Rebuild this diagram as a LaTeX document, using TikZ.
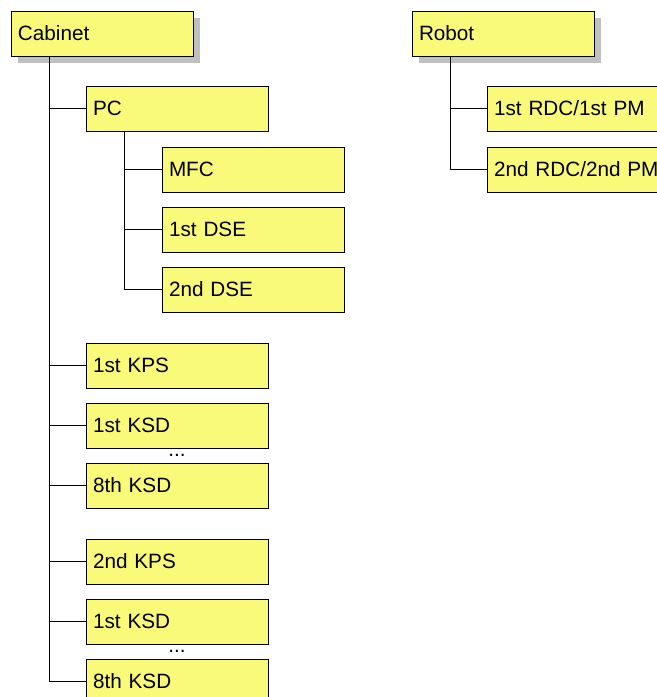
\documentclass[tikz,border=0pt]{standalone}
\usepackage{fontspec}
\setmainfont{Liberation Sans}
\usetikzlibrary{positioning,shadows}
\definecolor{boxyellow}{RGB}{250,250,122}
\definecolor{shadowgrey}{RGB}{192,192,192}

\begin{document}
\begin{tikzpicture}[font=\fontsize{10.35}{12}\selectfont,
  unit/.style={draw,line width=0.5pt,fill=boxyellow,minimum height=22.5pt,text width=84pt,inner xsep=3.5pt,outer sep=0pt,align=left},
  rootunit/.style={unit,drop shadow={shadow xshift=3.5pt,shadow yshift=-3.5pt,fill=shadowgrey,opacity=1}},
  link/.style={line width=0.5pt}]
\useasboundingbox (0,0) rectangle (328.5pt,-348.5pt);
\node[rootunit,anchor=north west] (cab) at (5.5pt,-5.5pt) {Cabinet};
\node[rootunit,right=109.5pt of cab] (rob) {Robot};
\node[unit,below right=15pt and 37.5pt of cab.south west] (pc) {PC};
\node[unit,below right=8pt and 38pt of pc.south west] (mfc) {MFC};
\node[unit,below=7.5pt of mfc] (dsea) {1st DSE};
\node[unit,below=7.5pt of dsea] (dseb) {2nd DSE};
\coordinate (kpstop) at (dseb.south -| pc.west);
\node[unit,below right=15.5pt and 0pt of kpstop] (kpsa) {1st KPS};
\node[unit,below=7.5pt of kpsa] (ksda) {1st KSD};
\node[unit,below=7.5pt of ksda] (ksdh) {8th KSD};
\node[unit,below=15.5pt of ksdh] (kpsb) {2nd KPS};
\node[unit,below=7.5pt of kpsb] (ksdb) {1st KSD};
\node[unit,below=7.5pt of ksdb] (ksdi) {8th KSD};
\path (ksda) -- node (dotsa) {...} (ksdh);
\path (ksdb) -- node (dotsb) {...} (ksdi);
\node[unit,below right=15pt and 37.5pt of rob.south west] (rdca) {1st RDC/1st PM};
\node[unit,below=8pt of rdca] (rdcb) {2nd RDC/2nd PM};
\foreach \n in {pc,kpsa,ksda,ksdh,kpsb,ksdb,ksdi}
  \draw[link] ([xshift=19pt]cab.south west) |- (\n.west);
\foreach \n in {mfc,dsea,dseb}
  \draw[link] ([xshift=19pt]pc.south west) |- (\n.west);
\foreach \n in {rdca,rdcb}
  \draw[link] ([xshift=19pt]rob.south west) |- (\n.west);
\end{tikzpicture}
\end{document}
